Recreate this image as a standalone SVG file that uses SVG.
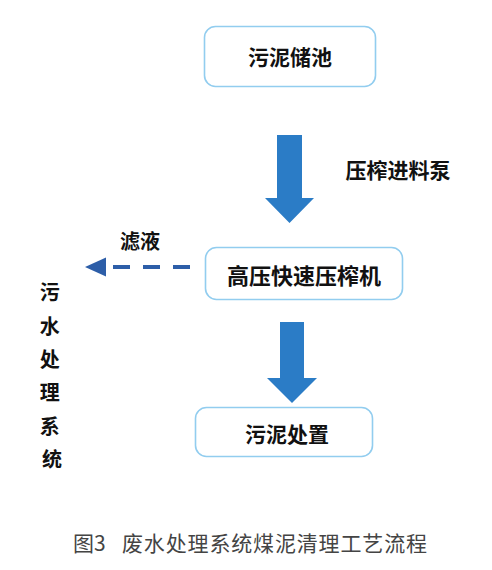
<svg xmlns="http://www.w3.org/2000/svg" width="492" height="570" viewBox="0 0 492 570">
<style>
.box{fill:#fff;stroke:#92cdef;stroke-width:1.6}
.t{font-family:"Noto Sans CJK SC","Noto Sans",sans-serif;fill:#111;font-weight:700;text-anchor:middle}
.arrow{fill:#2b7cc6}
.cap{font-family:"Noto Sans CJK SC","Noto Sans",sans-serif;fill:#444;font-size:21px}
</style>
<rect width="492" height="570" fill="#fff"/>
<g id="connectors">
<polygon class="arrow" points="277,135 302,135 302,198 314,198 289.5,223 265,198 277,198"/>
<polygon class="arrow" points="280,322 304,322 304,378 317,378 292,403 267,378 280,378"/>
<g id="filtrate">
<line x1="190" y1="267" x2="108" y2="267" stroke="#2d5ea8" stroke-width="4" stroke-dasharray="17,13"/>
<polygon points="85,267 106,257.5 106,276.5" fill="#2d5ea8"/>
</g>
</g>
<g id="node-storage">
<rect class="box" x="204.5" y="26.5" width="171" height="60" rx="11"/>
<text class="t" x="290" y="65" font-size="21">污泥储池</text>
</g>
<g id="label-pump">
<text class="t" x="398" y="178" font-size="21" font-weight="600">压榨进料泵</text>
</g>
<g id="node-press">
<rect class="box" x="205.5" y="247.5" width="197" height="52" rx="11"/>
<text class="t" x="304" y="284" font-size="22" font-weight="600">高压快速压榨机</text>
</g>
<g id="label-filtrate">
<text class="t" x="140" y="249" font-size="20">滤液</text>
</g>
<g id="node-wastewater">
<text class="t" font-size="20" font-weight="600" x="52">
<tspan x="52" y="300">污</tspan>
<tspan x="52" y="334">水</tspan>
<tspan x="52" y="367">处</tspan>
<tspan x="52" y="400">理</tspan>
<tspan x="52" y="434">系</tspan>
<tspan x="52" y="467">统</tspan>
</text>
</g>
<g id="node-disposal">
<rect class="box" x="195.5" y="407.5" width="177" height="49" rx="11"/>
<text class="t" x="287" y="442" font-size="21" font-weight="600">污泥处置</text>
</g>
<g id="caption">
<text class="cap" x="73" y="551">图3</text>
<text class="cap" x="122" y="551" textLength="305" lengthAdjust="spacing">废水处理系统煤泥清理工艺流程</text>
</g>
</svg>
